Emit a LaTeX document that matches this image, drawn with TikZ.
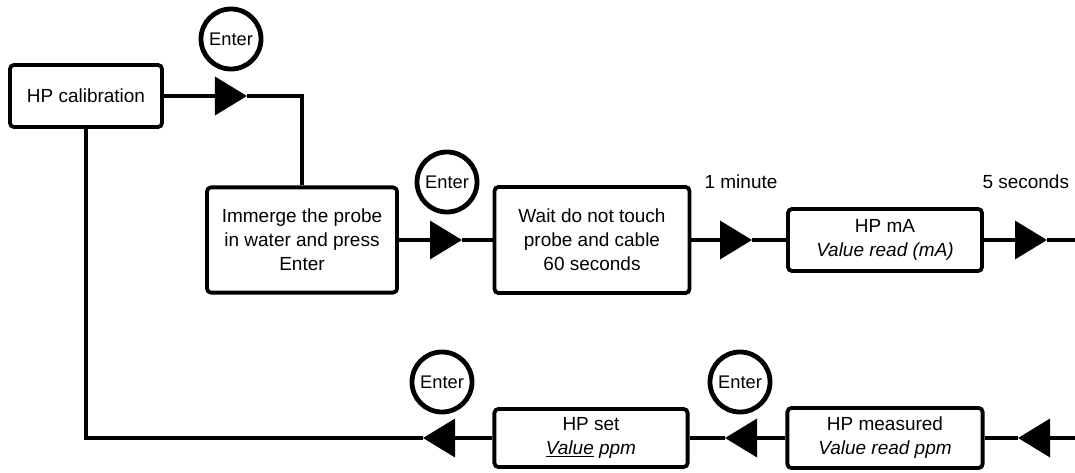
\documentclass[tikz,border=0pt]{standalone}
\usepackage{fontspec}
\setmainfont{Liberation Sans}
\usetikzlibrary{arrows.meta}
\tikzset{
  stepbox/.style={rectangle, rounded corners=1mm, draw=black, line width=0.095cm, align=center, font=\fontsize{13.5}{17}\selectfont, inner sep=2pt},
  enterkey/.style={circle, draw=black, line width=0.12cm, minimum size=1.5cm, inner sep=0pt, font=\fontsize{13}{15}\selectfont},
  wire/.style={line width=0.09cm},
  flow/.style={wire, -{Triangle[length=0.8cm, width=0.95cm]}},
  note/.style={font=\fontsize{13.5}{17}\selectfont}
}

\begin{document}
\begin{tikzpicture}[x=0.025cm, y=-0.025cm]
    \useasboundingbox (0,0) rectangle (1075,472);

    % 1. Cajas del proceso
    \node[stepbox, minimum width=3.8cm, minimum height=1.55cm] (cal) at (86,96) {HP calibration};
    \node[stepbox, minimum width=4.75cm, minimum height=2.63cm] (imm) at (302,240) {Immerge the probe\\in water and press\\Enter};
    \node[stepbox, minimum width=4.875cm, minimum height=2.65cm] (wait) at (592,240) {Wait do not touch\\probe and cable\\60 seconds};
    \node[stepbox, minimum width=4.85cm, minimum height=1.55cm] (ma) at (885,240) {HP mA\\\textit{Value read (mA)}};
    \node[stepbox, minimum width=4.88cm, minimum height=1.5cm] (meas) at (885,438) {HP measured\\\textit{Value read ppm}};
    \node[stepbox, minimum width=4.83cm, minimum height=1.45cm] (set) at (591,438) {HP set\\\textit{\underline{Value} ppm}};

    % 2. Teclas Enter
    \node[enterkey] (e1) at (231,39) {Enter};
    \node[enterkey] (e2) at (447,182) {Enter};
    \node[enterkey] (e4) at (442,382) {Enter};
    \node[enterkey] (e5) at (740,382) {Enter};

    % 3. Tiempos
    \node[note] (n1) at (741,182) {1 minute};
    \node[note, anchor=east] (n2) at (1074,182) {5 seconds};

    % 4. Puntas de flecha y bordes
    \coordinate (t1) at (247,96);
    \coordinate (t2) at (462,240);
    \coordinate (t3) at (752,240);
    \coordinate (t4) at (1047,240);
    \coordinate (t5) at (423,438);
    \coordinate (t6) at (725,438);
    \coordinate (t7) at (1018,438);
    \coordinate (rout) at (1075,240);
    \coordinate (rin) at (1075,438);

    % 5. Conexiones fila superior
    \draw[flow] (cal.east) -- (t1);
    \draw[wire] (t1) -| (imm.north);
    \draw[flow] (imm.east) -- (t2);
    \draw[wire] (t2) -- (wait.west);
    \draw[flow] (wait.east) -- (t3);
    \draw[wire] (t3) -- (ma.west);
    \draw[flow] (ma.east) -- (t4);
    \draw[wire] (t4) -- (rout);

    % 6. Conexiones fila inferior
    \draw[flow] (rin) -- (t7);
    \draw[wire] (t7) -- (meas.east);
    \draw[flow] (meas.west) -- (t6);
    \draw[wire] (t6) -- (set.east);
    \draw[flow] (set.west) -- (t5);
    \draw[wire] (t5) -| (cal.south);

\end{tikzpicture}
\end{document}
